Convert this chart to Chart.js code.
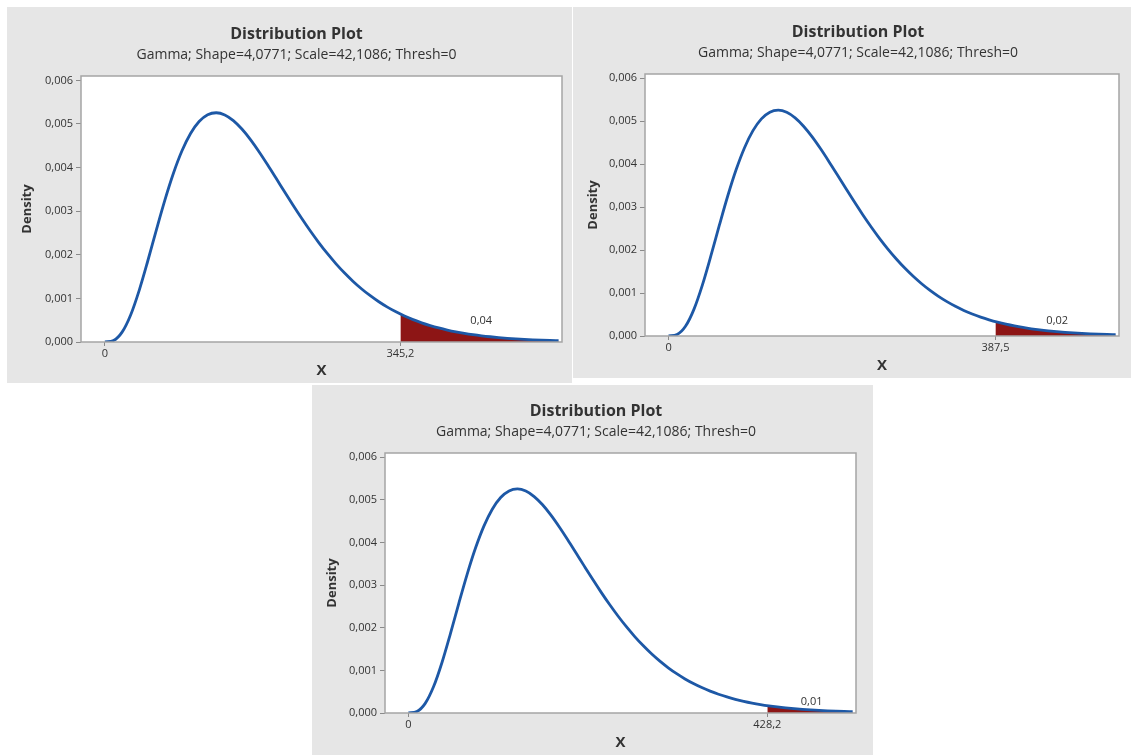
<!DOCTYPE html>
<html>
<head>
<meta charset="utf-8">
<script src="https://cdn.jsdelivr.net/npm/chart.js@4.4.1/dist/chart.umd.min.js"></script>
<style>
  body { margin: 0; background: #fff; width: 1131px; height: 755px; position: relative; overflow: hidden; }
  .panel { position: absolute; background: #e6e6e6; }
  .panel canvas { display: block; }
</style>
</head>
<body>
<div class="panel" style="left:7px;top:7px;width:565px;height:376px"><canvas id="plot1" width="565" height="376"></canvas></div>
<div class="panel" style="left:573px;top:7px;width:558px;height:371px"><canvas id="plot2" width="558" height="371"></canvas></div>
<div class="panel" style="left:312px;top:385px;width:561px;height:370px"><canvas id="plot3" width="561" height="370"></canvas></div>
<script>
// values (shape 4,0771 / scale 42,1086)
const xValues = [0, 10, 20, 30, 40, 50, 60, 70, 80, 90, 100, 110, 120, 130, 140, 150, 160, 170, 180, 190,
  200, 210, 220, 230, 240, 250, 260, 270, 280, 290, 300, 310, 320, 330, 340, 350, 360, 370, 380, 390,
  400, 410, 420, 430, 440, 450, 460, 470, 480, 490, 500, 510, 520, 530];
const densityValues = [0, 0.0000339, 0.0002259, 0.0006202, 0.0011854, 0.0018576, 0.0025672, 0.0032532, 0.0038692, 0.0043842,
  0.0047815, 0.0050559, 0.0052112, 0.0052570, 0.0052079, 0.0050784, 0.0048847, 0.0046421, 0.0043648, 0.0040652,
  0.0037540, 0.0034400, 0.0031304, 0.0028305, 0.0025445, 0.0022751, 0.0020244, 0.0017931, 0.0015815, 0.0013894,
  0.0012162, 0.0010610, 0.0009225, 0.0007996, 0.0006914, 0.0005960, 0.0005127, 0.0004399, 0.0003767, 0.0003218,
  0.0002743, 0.0002334, 0.0001982, 0.0001680, 0.0001422, 0.0001202, 0.0001014, 0.0000855, 0.0000719, 0.0000604,
  0.0000507, 0.0000425, 0.0000356, 0.0000297];

const cutoffs = [345.2, 387.5, 428.2];
const cutoffDensity = [0.00064, 0.000335, 0.000173];
const tailAreaLabels = ['0,04', '0,02', '0,01'];
const yTicks = [0, 0.001, 0.002, 0.003, 0.004, 0.005, 0.006];

const titleText = 'Distribution Plot';
const subtitleText = 'Gamma; Shape=4,0771; Scale=42,1086; Thresh=0';

const FONT = "'Open Sans', 'Noto Sans', sans-serif";
const TEXT = '#333333';

// layout of each panel (inner offsets in px)
const panels = [
  { id: 'plot1', yWidth: 50, xHeight: 41, right: 10, top: 2 },
  { id: 'plot2', yWidth: 48, xHeight: 42, right: 12, top: 0 },
  { id: 'plot3', yWidth: 49, xHeight: 42, right: 17, top: 1 }
];

const frame = {
  id: 'frame',
  beforeDraw(chart) {
    const a = chart.chartArea, ctx = chart.ctx;
    ctx.save();
    ctx.fillStyle = '#ffffff';
    ctx.fillRect(a.left, a.top, a.width, a.height);
    ctx.restore();
  },
  afterDraw(chart) {
    const a = chart.chartArea, ctx = chart.ctx;
    ctx.save();
    ctx.strokeStyle = '#a5a5a5';
    ctx.lineWidth = 1.5;
    ctx.strokeRect(a.left, a.top, a.width, a.height);
    // tail area probability
    const i = chart.options.plugins.frame.index;
    const xs = chart.scales.x, ys = chart.scales.y;
    const px = xs.getPixelForValue((cutoffs[i] + xs.max) / 2);
    const py = ys.getPixelForValue(cutoffDensity[i] / 2) - 2;
    ctx.fillStyle = TEXT;
    ctx.font = '11px ' + FONT;
    ctx.textAlign = 'center';
    ctx.textBaseline = 'bottom';
    ctx.fillText(tailAreaLabels[i], px, py);
    ctx.restore();
  }
};

panels.forEach(function (p, i) {
  const curve = xValues.map(function (x, k) { return { x: x, y: densityValues[k] }; });
  const tail = [{ x: cutoffs[i], y: cutoffDensity[i] }];
  xValues.forEach(function (x, k) {
    if (x > cutoffs[i]) tail.push({ x: x, y: densityValues[k] });
  });

  new Chart(document.getElementById(p.id), {
    type: 'line',
    data: {
      datasets: [{
        data: curve,
        borderColor: '#1d58a6',
        borderWidth: 2.8,
        pointRadius: 0,
        cubicInterpolationMode: 'monotone',
        fill: false
      }, {
        data: tail,
        borderWidth: 0,
        borderColor: 'rgba(0,0,0,0)',
        backgroundColor: '#8d1515',
        pointRadius: 0,
        cubicInterpolationMode: 'monotone',
        fill: 'origin'
      }]
    },
    options: {
      responsive: false,
      animation: false,
      layout: { padding: { left: 24, right: p.right, top: p.top, bottom: 0 } },
      plugins: {
        legend: { display: false },
        tooltip: { enabled: false },
        frame: { index: i },
        title: {
          display: true,
          text: titleText,
          color: TEXT,
          font: { family: FONT, size: 16, weight: 'bold' },
          padding: { top: 16, bottom: 2 }
        },
        subtitle: {
          display: true,
          text: subtitleText,
          color: TEXT,
          font: { family: FONT, size: 14 },
          padding: { top: 0, bottom: 13 }
        }
      },
      scales: {
        x: {
          type: 'linear',
          min: -28,
          max: 534,
          afterBuildTicks: function (axis) {
            axis.ticks = [0, cutoffs[i]].map(function (v) { return { value: v }; });
          },
          afterFit: function (axis) { axis.height = p.xHeight; },
          ticks: {
            color: TEXT,
            font: { family: FONT, size: 11 },
            padding: 1,
            maxRotation: 0,
            callback: function (v) { return String(v).replace('.', ','); }
          },
          grid: { drawOnChartArea: false, drawTicks: true, tickLength: 4, color: '#8a8a8a' },
          border: { display: false },
          title: {
            display: true,
            text: 'X',
            color: TEXT,
            font: { family: FONT, size: 15, weight: 'bold' },
            padding: { top: 0, bottom: 3 }
          }
        },
        y: {
          min: 0,
          max: 0.0061,
          afterBuildTicks: function (axis) {
            axis.ticks = yTicks.map(function (v) { return { value: v }; });
          },
          afterFit: function (axis) { axis.width = p.yWidth; },
          ticks: {
            color: TEXT,
            font: { family: FONT, size: 11 },
            padding: 3,
            callback: function (v) { return v.toFixed(3).replace('.', ','); }
          },
          grid: { drawOnChartArea: false, drawTicks: true, tickLength: 5, color: '#8a8a8a' },
          border: { display: false },
          title: {
            display: true,
            text: 'Density',
            color: TEXT,
            font: { family: FONT, size: 13, weight: 'bold' },
            padding: { top: -11.8, bottom: 0 }
          }
        }
      }
    },
    plugins: [frame]
  });
});
</script>
</body>
</html>
